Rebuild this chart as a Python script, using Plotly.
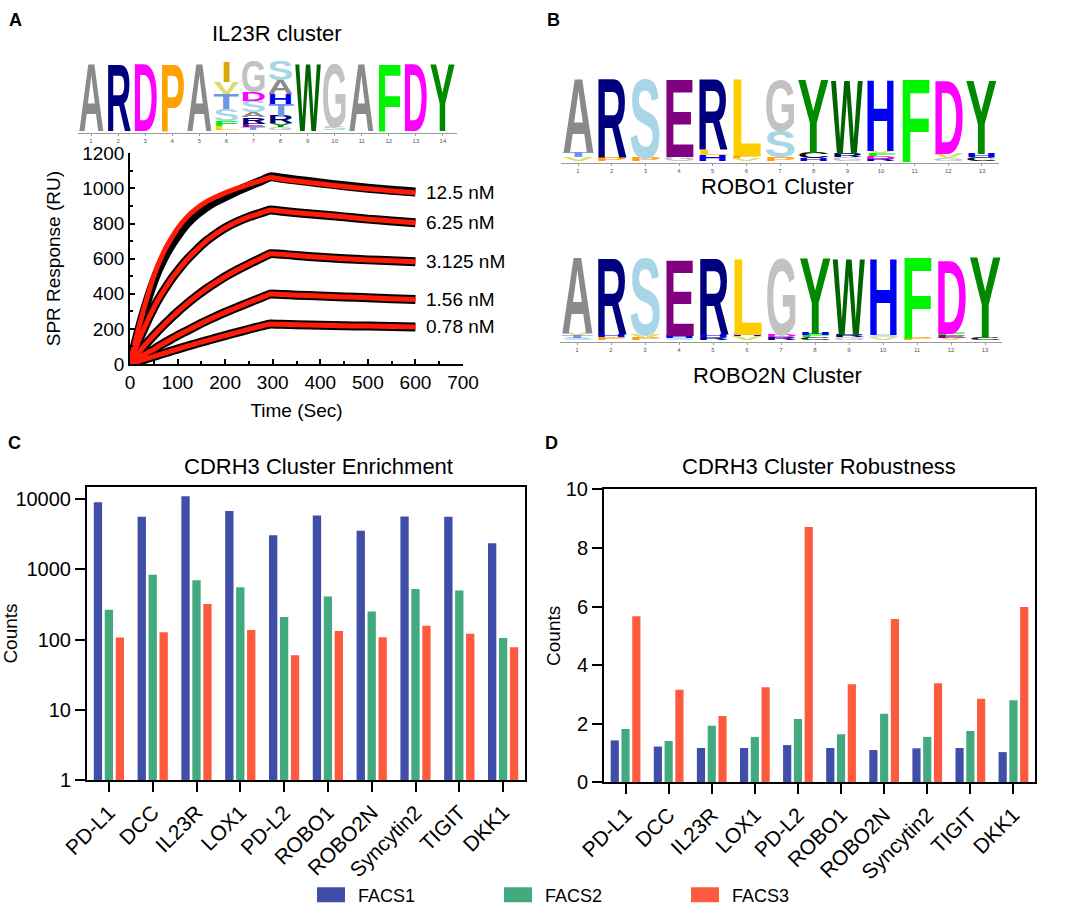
import json
import plotly.graph_objects as go

W, H = 1069, 922
FONT = "Arial, Liberation Sans, Helvetica, sans-serif"

# ---------------- Panel A: SPR sensorgrams ----------------
spr_time = [0, 5, 10, 20, 30, 40, 50, 60, 75, 90, 100, 120, 140, 160, 180, 200, 225, 250, 275, 295,
            320, 350, 400, 450, 500, 550, 600]
spr_labels = ["12.5 nM", "6.25 nM", "3.125 nM", "1.56 nM", "0.78 nM"]
fit_12_5 = [0, 58, 115, 222, 322, 415, 500, 572, 660, 730, 772, 838, 886, 923, 951, 975, 1000, 1024, 1045, 1062,
            1052, 1042, 1026, 1011, 998, 986, 975]
data_12_5 = [0, 55, 108, 210, 305, 392, 470, 538, 622, 690, 730, 800, 852, 893, 926, 953, 985, 1015, 1042, 1066,
             1058, 1047, 1031, 1015, 1001, 989, 979]
fit_6_25 = [0, 40, 75, 145, 205, 265, 320, 370, 435, 495, 530, 595, 650, 700, 740, 775, 810, 838, 860, 877,
            870, 862, 850, 838, 825, 815, 805]
fit_3_125 = [0, 18, 35, 70, 104, 133, 163, 192, 233, 272, 297, 344, 387, 427, 463, 497, 535, 570, 602, 628,
             625, 618, 608, 600, 593, 588, 582]
fit_1_56 = [0, 9, 18, 35, 53, 69, 82, 101, 124, 147, 162, 190, 218, 245, 270, 294, 322, 350, 377, 398,
            396, 392, 387, 382, 377, 372, 368]
fit_0_78 = [0, 4, 9, 18, 26, 35, 43, 52, 64, 77, 85, 101, 117, 132, 147, 162, 180, 198, 215, 228,
            226, 224, 221, 218, 216, 213, 211]
spr_fits = [fit_12_5, fit_6_25, fit_3_125, fit_1_56, fit_0_78]
spr_data = [data_12_5, fit_6_25, fit_3_125, fit_1_56, fit_0_78]

# ---------------- Panels C / D ----------------
targets = ["PD-L1", "DCC", "IL23R", "LOX1", "PD-L2", "ROBO1", "ROBO2N", "Syncytin2", "TIGIT", "DKK1"]
series_names = ["FACS1", "FACS2", "FACS3"]
enrich_facs1 = [9000, 5600, 11000, 6800, 3050, 5850, 3550, 5650, 5600, 2350]
enrich_facs2 = [265, 840, 700, 555, 210, 410, 252, 525, 500, 105]
enrich_facs3 = [107, 127, 320, 137, 60, 132, 108, 157, 121, 78]
robust_facs1 = [1.43, 1.22, 1.17, 1.17, 1.27, 1.17, 1.10, 1.16, 1.17, 1.03]
robust_facs2 = [1.82, 1.41, 1.93, 1.55, 2.16, 1.64, 2.34, 1.55, 1.75, 2.80]
robust_facs3 = [5.67, 3.16, 2.26, 3.24, 8.71, 3.35, 5.57, 3.38, 2.85, 5.98]
bar_colors = ["#3F4EA8", "#43AA80", "#FD5A3E"]

# ---------------- Sequence logos (stacks listed top -> bottom, heights in bits) ----------------
logo_il23r = [
    [("A", 4.25)], [("R", 4.25)], [("D", 4.25)], [("P", 4.25)], [("A", 4.25)],
    [("I", 1.25), ("V", 0.7), ("T", 0.95), ("S", 0.75), ("F", 0.3), ("L", 0.2)],
    [("G", 1.95), ("D", 0.56), ("S", 0.69), ("A", 0.31), ("R", 0.38), ("E", 0.22), ("T", 0.14)],
    [("S", 1.2), ("A", 0.88), ("H", 0.63), ("T", 0.69), ("R", 0.44), ("Y", 0.25), ("G", 0.16)],
    [("W", 4.25)], [("G", 4.0), ("S", 0.2)], [("A", 4.25)], [("F", 4.25)], [("D", 4.25)], [("Y", 4.25)],
]
logo_robo1 = [
    [("A", 3.8), ("T", 0.25), ("V", 0.2)],
    [("R", 4.05), ("P", 0.2)],
    [("S", 4.05), ("P", 0.2)],
    [("E", 4.0), ("G", 0.25)],
    [("R", 3.65), ("L", 0.28), ("H", 0.3)],
    [("L", 4.0), ("P", 0.15), ("V", 0.15)],
    [("G", 2.6), ("S", 1.35), ("P", 0.2)],
    [("Y", 3.8), ("C", 0.3), ("H", 0.15)],
    [("W", 3.8), ("R", 0.22), ("G", 0.2)],
    [("H", 3.65), ("V", 0.15), ("F", 0.15), ("D", 0.15), ("R", 0.12)],
    [("F", 4.25)],
    [("D", 3.8), ("V", 0.25), ("G", 0.15)],
    [("Y", 3.8), ("H", 0.22), ("C", 0.2)],
]
logo_robo2n = [
    [("A", 3.9), ("V", 0.15), ("T", 0.15), ("S", 0.1)],
    [("R", 3.9), ("H", 0.15), ("P", 0.15)],
    [("S", 3.9), ("V", 0.2), ("P", 0.1)],
    [("E", 3.9), ("H", 0.15), ("S", 0.1)],
    [("R", 3.9), ("H", 0.15), ("R", 0.15)],
    [("L", 3.9), ("H", 0.1), ("V", 0.2)],
    [("G", 3.9), ("D", 0.15), ("R", 0.15)],
    [("Y", 3.9), ("H", 0.1), ("F", 0.1), ("C", 0.15)],
    [("W", 3.9), ("R", 0.15), ("G", 0.15)],
    [("H", 3.9), ("S", 0.15), ("V", 0.15)],
    [("F", 4.15), ("P", 0.1)],
    [("D", 3.75), ("F", 0.1), ("E", 0.15), ("V", 0.1)],
    [("Y", 4.15), ("C", 0.15)],
]
aa_colors = {
    "A": "#8A8A8A", "R": "#00007F", "D": "#FF00FF", "P": "#FFA200", "I": "#D6A800",
    "V": "#DCDC6E", "T": "#6A95E8", "S": "#A9D6E6", "G": "#C2C2C2", "W": "#006400",
    "F": "#00F500", "Y": "#008A00", "E": "#800080", "H": "#0000F5", "L": "#FFCC00",
    "C": "#111111",
}


def px_x(px):
    return px / W


def px_y(py):
    return 1 - py / H


fig = go.Figure()

# SPR traces: black measured curves under red fits
for lab, dat in zip(spr_labels, spr_data):
    fig.add_trace(go.Scatter(x=spr_time, y=dat, mode="lines", line=dict(color="black", width=9, shape="spline", smoothing=0.4),
                             xaxis="x", yaxis="y", showlegend=False, hoverinfo="skip", cliponaxis=False))
for lab, fit in zip(spr_labels, spr_fits):
    fig.add_trace(go.Scatter(x=spr_time, y=fit, mode="lines", line=dict(color="#FF1A0A", width=5, shape="spline", smoothing=0.4),
                             xaxis="x", yaxis="y", showlegend=False, name=lab, cliponaxis=False))

# Bar panels
for name, vals, col in zip(series_names, [enrich_facs1, enrich_facs2, enrich_facs3], bar_colors):
    fig.add_trace(go.Bar(x=targets, y=vals, name=name, marker=dict(color=col, line=dict(width=0)),
                         xaxis="x2", yaxis="y2", legendgroup=name, showlegend=True))
for name, vals, col in zip(series_names, [robust_facs1, robust_facs2, robust_facs3], bar_colors):
    fig.add_trace(go.Bar(x=targets, y=vals, name=name, marker=dict(color=col, line=dict(width=0)),
                         xaxis="x3", yaxis="y3", legendgroup=name, showlegend=False))

# invisible anchors for the logo axes
logos = [(logo_il23r, "x4", "y4"), (logo_robo1, "x5", "y5"), (logo_robo2n, "x6", "y6")]
for logo, xa, ya in logos:
    fig.add_trace(go.Scatter(x=list(range(1, len(logo) + 1)), y=[0] * len(logo), mode="markers",
                             marker=dict(opacity=0), xaxis=xa, yaxis=ya, showlegend=False, hoverinfo="skip"))

annotations = []
specs = {}
LETTER_FS = 40
for logo, xa, ya in logos:
    for pos, stack in enumerate(logo, start=1):
        base = 0.0
        for letter, bits in reversed(stack):
            idx = len(annotations)
            annotations.append(dict(text=letter, x=pos, y=base, xref=xa, yref=ya, xanchor="center", yanchor="bottom",
                                    showarrow=False, borderpad=0,
                                    font=dict(family=FONT, size=LETTER_FS, color=aa_colors[letter], weight="bold")))
            wid = 0.4 if letter == "I" else 0.95
            specs[str(idx)] = [xa.replace("x", "xaxis"), ya.replace("y", "yaxis"), wid, bits, LETTER_FS]
            base += bits

# concentration labels at the end of each curve
for lab, fit in zip(spr_labels, spr_fits):
    annotations.append(dict(text=lab, x=spr_time[-1], y=fit[-1], xref="x", yref="y", xanchor="left", yanchor="middle",
                            xshift=9, showarrow=False, font=dict(family=FONT, size=19, color="black")))

# titles and panel letters
def paper_text(text, x, y, size, bold=False, xanchor="center"):
    annotations.append(dict(text=text, x=px_x(x), y=px_y(y), xref="paper", yref="paper", xanchor=xanchor,
                            yanchor="middle", showarrow=False,
                            font=dict(family=FONT, size=size, color="black", weight="bold" if bold else "normal")))

paper_text("IL23R cluster", 277, 33, 22)
paper_text("ROBO1 Cluster", 777, 187, 22)
paper_text("ROBO2N Cluster", 777, 375, 22)
paper_text("CDRH3 Cluster Enrichment", 318, 466, 22)
paper_text("CDRH3 Cluster Robustness", 819, 466, 22)
paper_text("A", 15, 20, 18, True)
paper_text("B", 553, 20, 18, True)
paper_text("C", 14, 443, 18, True)
paper_text("D", 551, 443, 18, True)

axis_common = dict(showgrid=False, zeroline=False, showline=True, linecolor="black", tickcolor="black",
                   automargin=False, tickfont=dict(family=FONT, size=19, color="black"))
bar_x = dict(axis_common, type="category", ticks="outside", ticklen=10, tickwidth=1.8, linewidth=2,
             mirror=True, tickangle=-45, tickfont=dict(family=FONT, size=21, color="black"))
bar_y = dict(axis_common, ticks="outside", ticklen=10, tickwidth=1.8, linewidth=2, mirror=True,
             tickfont=dict(family=FONT, size=20, color="black"))
logo_x = dict(showgrid=False, zeroline=False, showline=True, linecolor="#9A9A9A", linewidth=1, ticks="outside",
              automargin=False, ticklen=2, tickcolor="#9A9A9A",
              tickfont=dict(family=FONT, size=6, color="#555555"), fixedrange=True)
logo_y = dict(visible=False, fixedrange=True, showgrid=False, zeroline=False, automargin=False)

fig.update_layout(
    width=W, height=H, margin=dict(l=0, r=0, t=0, b=0, autoexpand=False), paper_bgcolor="white", plot_bgcolor="white",
    font=dict(family=FONT, color="black"),
    barmode="group", bargap=0.25, bargroupgap=0.24,
    xaxis=dict(axis_common, domain=[px_x(130), px_x(463)], range=[0, 700], dtick=100, anchor="y",
               ticks="inside", ticklen=5, tickwidth=1.5, linewidth=1.5,
               minor=dict(ticks="inside", ticklen=3, dtick=50, tickcolor="black"),
               title=dict(text="Time (Sec)", font=dict(family=FONT, size=19, color="black"), standoff=12)),
    yaxis=dict(axis_common, domain=[px_y(364), px_y(153.3)], range=[0, 1200], dtick=200, anchor="x",
               ticks="inside", ticklen=5, tickwidth=1.5, linewidth=1.5,
               minor=dict(ticks="inside", ticklen=3, dtick=100, tickcolor="black"),
               title=dict(text="SPR Response (RU)", font=dict(family=FONT, size=19, color="black"), standoff=17)),
    xaxis2=dict(bar_x, domain=[px_x(87), px_x(525)], anchor="y2"),
    yaxis2=dict(bar_y, domain=[px_y(780), px_y(487)], type="log", range=[0, 4.173], anchor="x2",
                tickvals=[1, 10, 100, 1000, 10000], ticktext=["1", "10", "100", "1000", "10000"],
                title=dict(text="Counts", font=dict(family=FONT, size=19, color="black"), standoff=9)),
    xaxis3=dict(bar_x, domain=[px_x(604), px_x(1035)], anchor="y3"),
    yaxis3=dict(bar_y, domain=[px_y(782.3), px_y(489.3)], range=[0, 10], dtick=2, anchor="x3",
                title=dict(text="Counts", font=dict(family=FONT, size=19, color="black"), standoff=0)),
    xaxis4=dict(logo_x, domain=[px_x(77.5), px_x(456.5)], range=[0.5, 14.5], tickvals=list(range(1, 15)), anchor="y4"),
    yaxis4=dict(logo_y, domain=[px_y(133), px_y(61)], range=[-0.15, 4.25], anchor="x4"),
    xaxis5=dict(logo_x, domain=[px_x(561.2), px_x(998.8)], range=[0.5, 13.5], tickvals=list(range(1, 14)), anchor="y5"),
    yaxis5=dict(logo_y, domain=[px_y(163), px_y(77)], range=[-0.05, 4.25], anchor="x5"),
    xaxis6=dict(logo_x, domain=[px_x(560), px_x(1002)], range=[0.5, 13.5], tickvals=list(range(1, 14)), anchor="y6"),
    yaxis6=dict(logo_y, domain=[px_y(342), px_y(254)], range=[-0.05, 4.3], anchor="x6"),
    legend=dict(orientation="h", x=px_x(304), y=px_y(895), xanchor="left", yanchor="middle",
                font=dict(family=FONT, size=18, color="black"), entrywidth=128, entrywidthmode="pixels",
                itemwidth=44, bgcolor="rgba(0,0,0,0)", itemclick=False, itemdoubleclick=False),
    annotations=annotations,
)

post_js = """
(function(){
var gd = document.getElementById('{plot_id}');
var SPECS = %s;
function stretch(){
  var fl = gd._fullLayout;
  if(!fl) return;
  var groups = gd.querySelectorAll('g.annotation');
  for (var k = 0; k < groups.length; k++) {
    var g = groups[k];
    var s = SPECS[g.getAttribute('data-index')];
    if (!s) continue;
    var t = g.querySelector('text.annotation-text');
    if (!t) continue;
    t.removeAttribute('transform');
    var xa = fl[s[0]], ya = fl[s[1]];
    var pxW = s[2] * xa._length / Math.abs(xa.range[1] - xa.range[0]);
    var pxH = s[3] * ya._length / Math.abs(ya.range[1] - ya.range[0]);
    var bb = t.getBBox();
    if (!bb.width || !bb.height) continue;
    var base = bb.y + bb.height * 0.905 / 1.117;
    var bottom = bb.y + bb.height;
    var cx = bb.x + bb.width / 2;
    var sy = pxH / (0.716 * s[4]);
    var sx = pxW / bb.width;
    t.setAttribute('transform', 'translate(' + cx + ',' + bottom + ') scale(' + sx + ',' + sy + ') translate(' + (-cx) + ',' + (-base) + ')');
  }
  var sw = gd.querySelectorAll('.legendpoints path');
  for (var j = 0; j < sw.length; j++) {
    var d = sw[j].getAttribute('d') || '';
    if (d.indexOf('M6,6H-6V-6H6Z') === 0 || d.indexOf('M14,7.5') === 0) {
      sw[j].setAttribute('d', 'M14,7.5H-14V-7.5H14Z');
    }
  }
}
stretch();
setTimeout(stretch, 50);
gd.on('plotly_afterplot', stretch);
})();
""" % json.dumps(specs)

fig.write_html("out.html", post_script=post_js)
